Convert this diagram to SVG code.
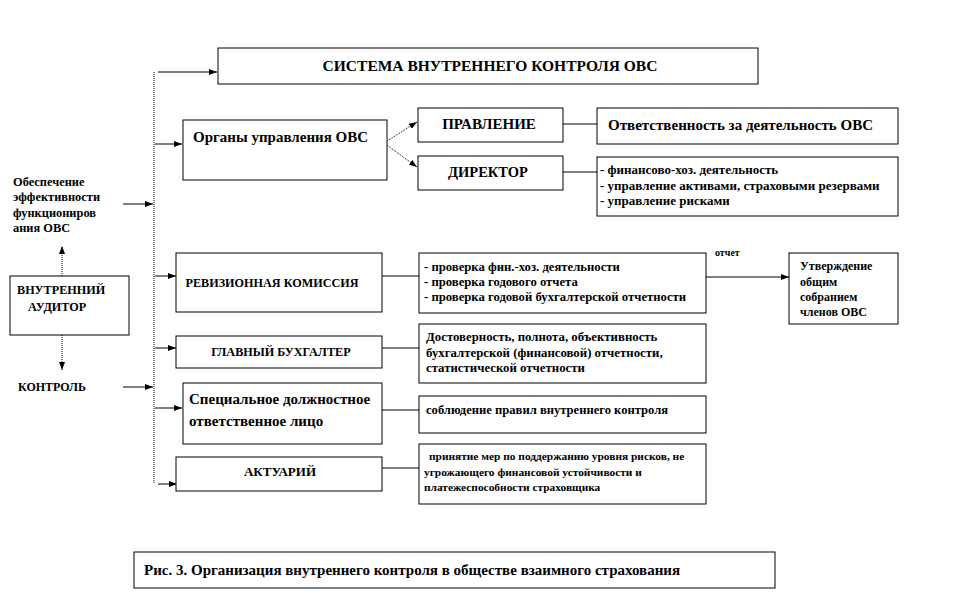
<svg xmlns="http://www.w3.org/2000/svg" width="958" height="600" viewBox="0 0 958 600">
<defs>
<marker id="ah" viewBox="0 0 8 6" refX="8" refY="3" markerWidth="8" markerHeight="6" markerUnits="userSpaceOnUse" orient="auto">
<path d="M0,0 L8,3 L0,6 Z" fill="#000"/>
</marker>
<style>
.box{fill:#fff;stroke:#000;stroke-width:1}
.t{font-family:"Liberation Serif","Times New Roman",serif;font-weight:bold;fill:#000}
.c{text-anchor:middle}
.ln{stroke:#000;stroke-width:1;fill:none}
.ar{stroke:#000;stroke-width:1;fill:none;marker-end:url(#ah)}
.dot{stroke:#000;stroke-width:1;stroke-dasharray:1 1;fill:none}
.dar{stroke:#000;stroke-width:1;stroke-dasharray:1 1;fill:none;marker-end:url(#ah)}
</style>
</defs>
<rect width="958" height="600" fill="#fff"/>

<g id="connectors">
<line class="dot" x1="154" y1="72" x2="154" y2="484"/>
<line class="ar" x1="158" y1="72" x2="217" y2="72"/>
<line class="ar" x1="155" y1="144" x2="182" y2="144"/>
<line class="ar" x1="123" y1="204" x2="153" y2="204"/>
<line class="ar" x1="155" y1="276" x2="176" y2="276"/>
<line class="ar" x1="155" y1="348" x2="176" y2="348"/>
<line class="ar" x1="123" y1="387" x2="153" y2="387"/>
<line class="ar" x1="155" y1="408" x2="182" y2="408"/>
<line class="ar" x1="158" y1="484" x2="177" y2="484"/>
<line class="dar" x1="384" y1="143" x2="417" y2="122"/>
<line class="dar" x1="384" y1="143" x2="417" y2="167"/>
<line class="ln" x1="563" y1="124" x2="597" y2="124"/>
<line class="ln" x1="563" y1="172" x2="597" y2="172"/>
<line class="ln" x1="382" y1="276" x2="419" y2="276"/>
<line class="ar" x1="706" y1="277" x2="789" y2="277"/>
<line class="ln" x1="382" y1="348" x2="419" y2="348"/>
<line class="ln" x1="382" y1="410" x2="419" y2="410"/>
<line class="ln" x1="382" y1="468" x2="419" y2="468"/>
<line class="dar" x1="62" y1="276" x2="62" y2="246"/>
<line class="dar" x1="62" y1="335" x2="62" y2="370"/>
</g>

<g id="sistema">
<rect class="box" x="218" y="48" width="540" height="36"/>
<text class="t c" x="490" y="71" font-size="15.5">СИСТЕМА ВНУТРЕННЕГО  КОНТРОЛЯ ОВС</text>
</g>

<g id="organy">
<rect class="box" x="183" y="120" width="204" height="60"/>
<text class="t" x="193" y="142" font-size="15">Органы управления ОВС</text>
</g>

<g id="pravlenie">
<rect class="box" x="418" y="108" width="145" height="34"/>
<text class="t c" x="489" y="129" font-size="15">ПРАВЛЕНИЕ</text>
</g>

<g id="direktor">
<rect class="box" x="418" y="156" width="145" height="34"/>
<text class="t c" x="488" y="177" font-size="14.5">ДИРЕКТОР</text>
</g>

<g id="otvetstvennost">
<rect class="box" x="597" y="108" width="301" height="36"/>
<text class="t" x="608" y="130" font-size="15">Ответственность за деятельность ОВС</text>
</g>

<g id="direktor-func">
<rect class="box" x="597" y="157" width="301" height="59"/>
<text class="t" x="600" y="174" font-size="13">- финансово-хоз. деятельность</text>
<text class="t" x="600" y="190" font-size="13">- управление активами, страховыми резервами</text>
<text class="t" x="600" y="205" font-size="13">- управление рисками</text>
</g>

<g id="obespechenie">
<text class="t" x="13" y="186" font-size="12.4">Обеспечение</text>
<text class="t" x="13" y="201" font-size="12.4">эффективности</text>
<text class="t" x="13" y="217" font-size="12.4">функциониров</text>
<text class="t" x="13" y="232" font-size="12.4">ания ОВС</text>
</g>

<g id="auditor">
<rect class="box" x="10" y="276" width="119" height="59"/>
<text class="t" x="17" y="294" font-size="12.2">ВНУТРЕННИЙ</text>
<text class="t" x="28" y="311" font-size="12.2">АУДИТОР</text>
</g>

<g id="kontrol">
<text class="t" x="18" y="391" font-size="12">КОНТРОЛЬ</text>
</g>

<g id="revizionnaya">
<rect class="box" x="176" y="253" width="206" height="59"/>
<text class="t c" x="272" y="287" font-size="12.2">РЕВИЗИОННАЯ  КОМИССИЯ</text>
</g>

<g id="revizionnaya-func">
<rect class="box" x="419" y="253" width="287" height="60"/>
<text class="t" x="424" y="271" font-size="12.7">- проверка фин.-хоз.  деятельности</text>
<text class="t" x="424" y="286" font-size="12.7">- проверка годового  отчета</text>
<text class="t" x="424" y="301" font-size="12.7">- проверка годовой бухгалтерской  отчетности</text>
</g>

<g id="otchet">
<text class="t" x="715" y="256" font-size="10">отчет</text>
</g>

<g id="utverzhdenie">
<rect class="box" x="789" y="253" width="109" height="71"/>
<text class="t" x="800" y="270" font-size="12">Утверждение</text>
<text class="t" x="800" y="286" font-size="12">общим</text>
<text class="t" x="800" y="301" font-size="12">собранием</text>
<text class="t" x="800" y="316" font-size="12">членов ОВС</text>
</g>

<g id="buhgalter">
<rect class="box" x="176" y="336" width="206" height="32"/>
<text class="t c" x="281" y="356" font-size="12.2">ГЛАВНЫЙ БУХГАЛТЕР</text>
</g>

<g id="buhgalter-func">
<rect class="box" x="419" y="324" width="287" height="59"/>
<text class="t" x="426" y="341" font-size="12.8">Достоверность, полнота,  объективность</text>
<text class="t" x="426" y="357" font-size="12.8">бухгалтерской  (финансовой) отчетности,</text>
<text class="t" x="426" y="372" font-size="12.8">статистической  отчетности</text>
</g>

<g id="specialnoe">
<rect class="box" x="183" y="383" width="199" height="61"/>
<text class="t" x="189" y="404" font-size="15">Специальное должностное</text>
<text class="t" x="189" y="426" font-size="15">ответственное  лицо</text>
</g>

<g id="specialnoe-func">
<rect class="box" x="419" y="396" width="287" height="37"/>
<text class="t" x="426" y="414" font-size="12.6">соблюдение правил внутреннего  контроля</text>
</g>

<g id="aktuariy">
<rect class="box" x="176" y="457" width="206" height="34"/>
<text class="t c" x="280" y="476" font-size="13">АКТУАРИЙ</text>
</g>

<g id="aktuariy-func">
<rect class="box" x="419" y="444" width="287" height="60"/>
<text class="t" x="429" y="460" font-size="11.4">принятие мер по поддержанию  уровня рисков, не</text>
<text class="t" x="424" y="476" font-size="11.4">угрожающего финансовой  устойчивости и</text>
<text class="t" x="424" y="491" font-size="11.4">платежеспособности   страховщика</text>
</g>

<g id="caption">
<rect class="box" x="134" y="552" width="641" height="36"/>
<text class="t" x="144" y="575" font-size="15">Рис. 3. Организация внутреннего контроля в обществе  взаимного страхования</text>
</g>
</svg>
